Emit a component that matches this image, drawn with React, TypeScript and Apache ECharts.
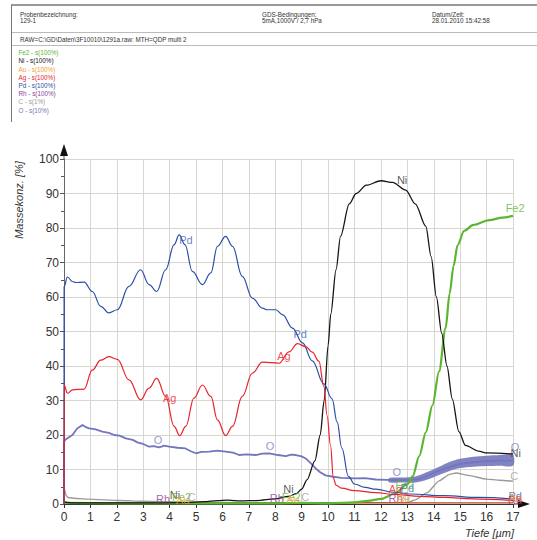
import React, { useEffect, useRef } from "react";
import * as echarts from "echarts";

// ---------- data (depth µm, mass conc. %) ----------
const pd: number[][] = [[0,0],[0.005,63],[0.13,65.8],[0.32,64.5],[0.44,64.2],[0.76,64.3],[1.07,61.6],[1.39,57.3],[1.7,55.4],[2.02,56.3],[2.46,63.1],[2.9,67.9],[3.22,63.6],[3.51,61.6],[3.85,67.9],[4.17,75.2],[4.36,78],[4.58,75.2],[4.86,67.4],[5.24,63.6],[5.56,67],[5.81,74.7],[6.12,77.6],[6.38,74.7],[6.75,66],[7.13,59.7],[7.51,56.8],[7.7,56.3],[8.02,56.3],[8.27,54.9],[8.65,51],[9.03,46.7],[9.4,41.5],[9.84,34.8],[10.15,30.5],[10.34,23.8],[10.52,16.2],[10.77,8],[11.0,5.8],[11.4,4.8],[11.8,4.3],[12.5,3.4],[13.1,2.9],[14.4,2.4],[15.7,1.9],[17,1.4]];
const ag: number[][] = [[0,0],[0.005,34.5],[0.13,32.1],[0.32,33.1],[0.76,33.3],[1.07,38.8],[1.39,41.7],[1.7,42.7],[2.02,41.9],[2.46,36],[2.9,30.2],[3.22,33.6],[3.51,36.4],[3.85,31.2],[4.17,22.5],[4.38,19.8],[4.61,22.5],[4.92,30.7],[5.24,34.5],[5.56,31.2],[5.81,24.4],[6.12,19.8],[6.38,22.5],[6.75,31.2],[7.13,37.9],[7.51,41.1],[7.89,41],[8.14,40.8],[8.52,44.1],[8.84,46.5],[9.15,45.6],[9.4,44],[9.65,41.4],[9.84,34],[9.96,25.7],[10.09,17],[10.2,7.5],[10.3,5.5],[10.5,4.6],[11,3.9],[11.8,3.3],[12.5,2.8],[13.5,2.2],[14.4,1.9],[15.5,1.5],[17,1.0]];
const ni: number[][] = [[0,0.6],[0.3,0.3],[1,0.3],[3,0.3],[4.5,0.4],[5.3,0.7],[5.8,1.0],[6.2,1.1],[6.7,0.9],[7.3,1.0],[8,1.5],[8.5,2.2],[8.8,3],[9,4.3],[9.2,7],[9.5,12.5],[9.7,20],[9.85,30],[10,46],[10.1,55],[10.3,67.9],[10.47,77.6],[10.8,87],[11.06,90],[11.45,92.4],[12,93.7],[12.44,93.2],[12.94,91],[13.3,87],[13.7,80.5],[13.9,71.7],[14.1,60],[14.3,49.5],[14.5,40],[14.7,30.5],[14.95,21],[15.2,17],[15.7,15.3],[16,14.8],[17,14.5]];
const fe2: number[][] = [[0,0.3],[2,0.2],[5,0.2],[8,0.2],[9,0.3],[10,0.2],[10.5,0.3],[11,0.5],[11.5,0.9],[12,1.5],[12.5,2.9],[13,5.7],[13.2,8],[13.45,13.9],[13.7,20.8],[13.95,28.6],[14.2,38.4],[14.45,51],[14.6,61],[14.75,69],[14.9,75],[15.15,79.2],[15.5,80.9],[16.1,82.3],[16.6,83],[17,83.5]];
const oMain: number[][] = [[0,0],[0.005,18.1],[0.06,18.7],[0.2,19.4],[0.32,20],[0.5,21.9],[0.7,22.9],[0.85,22.2],[0.95,21.9],[1.2,21.6],[1.45,21],[1.7,20.6],[1.9,20],[2.1,19.8],[2.34,19],[2.6,18.6],[2.8,17.8],[3.0,17.4],[3.22,16.6],[3.4,16.8],[3.6,16.4],[3.8,16.9],[3.98,16.6],[4.3,16.3],[4.6,16.1],[4.8,15.3],[5.0,14.7],[5.2,15.1],[5.5,15.2],[5.8,15.5],[6.12,15.2],[6.4,14.9],[6.63,14.2],[6.9,14.4],[7.26,14.2],[7.5,14.6],[7.77,14.7],[8.1,14.2],[8.4,13.9],[8.6,14.3],[8.78,14.2],[9.0,13.8],[9.15,13.2],[9.35,11.8],[9.53,10.3],[9.7,9.2],[9.9,8.3],[10.2,7.9],[10.5,7.6],[11,7.4],[11.4,7.5],[11.8,7.1],[12.2,7.0],[12.5,6.9],[13,6.9],[13.5,7.3],[14,9],[14.5,10.5],[15,11.6],[15.5,12.1],[16,12.4],[16.5,12.6],[17,12.6]];
const oBandX: number[] = [12.3, 12.8, 13.3, 13.8, 14.2, 14.6, 15, 15.5, 16, 16.5, 17];
const oBandLow: number[] = [6.3, 6.2, 6.2, 7.2, 8.4, 9.6, 10.4, 10.8, 11.0, 11.1, 11.1];
const oBandHigh: number[] = [7.5, 7.7, 8.0, 9.4, 10.8, 12.2, 13.1, 13.7, 14.0, 14.2, 14.3];
const cData: number[][] = [[0,0],[0.005,4.5],[0.08,2.5],[0.15,1.9],[0.5,1.6],[0.93,1.4],[2.1,1],[3,0.8],[5,0.5],[7,0.4],[9,0.4],[11,0.4],[13,0.4],[13.3,1.2],[13.75,3.3],[14.2,6.7],[14.6,8.6],[14.85,9],[15.3,8.3],[16,7.2],[16.5,6.9],[17,6.6]];
const au: number[][] = [[0,0.8],[0.1,0.2],[5,0.15],[10,0.15],[17,0.2]];
const rh: number[][] = [[0,0.4],[0.1,0.3],[5,0.3],[10,0.3],[17,0.3]];

// curve labels: [series, depth, value]
const curveLabels: [string, number, number][] = [
  ["Pd", 4.62, 76.5], ["Pd", 8.94, 49.3], ["Pd", 13.0, 4.5], ["Pd", 17.08, 2.2],
  ["Ag", 4.0, 30.7], ["Ag", 8.33, 42.9], ["Ag", 12.55, 4.3], ["Ag", 17.08, 1.6],
  ["Rh", 3.75, 1.5], ["Rh", 8.06, 1.8], ["Rh", 12.55, 1.8], ["Rh", 17.08, 1.3],
  ["Ni", 12.8, 93.9], ["Ni", 4.2, 2.6], ["Ni", 8.5, 4.3], ["Ni", 17.1, 14.8],
  ["Fe2", 17.08, 85.8], ["Fe2", 4.45, 2.0], ["Fe2", 8.6, 2.0], ["Fe2", 12.9, 5.6],
  ["Au", 4.5, 1.2], ["Au", 8.67, 1.4], ["Au", 12.85, 1.6], ["Au", 17.08, 1.8],
  ["C", 4.84, 2.1], ["C", 9.13, 2.1], ["C", 12.95, 2.2], ["C", 17.05, 8.1],
  ["O", 3.56, 18.6], ["O", 7.8, 16.8], ["O", 12.6, 9.3], ["O", 17.08, 16.5],
];

const legendLines: [string, string][] = [
  ["Fe2", "Fe2 - s(100%)"], ["Ni", "Ni - s(100%)"], ["Au", "Au - s(100%)"], ["Ag", "Ag - s(100%)"],
  ["Pd", "Pd - s(100%)"], ["Rh", "Rh - s(100%)"], ["C", "C - s(1%)"], ["O", "O - s(10%)"],
];
const headerFields: [string, string][] = [
  ["Probenbezeichnung:", "129-1"],
  ["GDS-Bedingungen:", "5mA,1000V / 2,7 hPa"],
  ["Datum/Zeit:", "28.01.2010 15:42:58"],
];
const rawLine = "RAW=C:\\GD\\Daten\\3F10010\\1291a.raw: MTH=QDP multi 2";

const COLORS: Record<string, string> = {
  Fe2: "#5cb531", Ni: "#151515", Au: "#f4a02c", Ag: "#e8232b",
  Pd: "#2b4fa6", Rh: "#8d3b97", C: "#9a9a9a", O: "#7376bc",
};
const LABEL_COLORS: Record<string, string> = {
  Fe2: "#5cb531", Ni: "#333333", Au: "#f4a02c", Ag: "#e8232b",
  Pd: "#3b5fb0", Rh: "#8d3b97", C: "#a0a0a0", O: "#7a7dc0",
};

const FONT = '"Liberation Sans", Arial, sans-serif';

export default function App() {
  const ref = useRef<HTMLDivElement>(null);
  useEffect(() => {
    if (!ref.current) return;
    const chart = echarts.init(ref.current, undefined, { renderer: "svg" });
    const line = (name: string, data: number[][], width = 1.2, smooth: number | boolean = 0.3, z = 2) => ({
      name, type: "line", data, showSymbol: false, symbol: "none", smooth, smoothMonotone: "x",
      lineStyle: { color: COLORS[name] || COLORS.O, width }, z, silent: true,
    });

    const hdrX = [20, 262, 432];
    const graphic: any[] = [];
    graphic.push({ type: "line", shape: { x1: 11, y1: 5, x2: 537, y2: 5 }, style: { stroke: "#777", lineWidth: 1.5 } });
    graphic.push({ type: "line", shape: { x1: 11, y1: 32.5, x2: 537, y2: 32.5 }, style: { stroke: "#aaa", lineWidth: 0.8 } });
    graphic.push({ type: "line", shape: { x1: 11, y1: 45.5, x2: 537, y2: 45.5 }, style: { stroke: "#aaa", lineWidth: 0.8 } });
    graphic.push({ type: "line", shape: { x1: 11.5, y1: 5, x2: 11.5, y2: 122 }, style: { stroke: "#777", lineWidth: 1 } });
    headerFields.forEach(([a, b], i) => {
      graphic.push({ type: "text", x: hdrX[i], y: 14, style: { text: a, fill: "#333", font: `6.3px ${FONT}`, verticalAlign: "middle" } });
      graphic.push({ type: "text", x: hdrX[i], y: 20.7, style: { text: b, fill: "#333", font: `6.3px ${FONT}`, verticalAlign: "middle" } });
    });
    graphic.push({ type: "text", x: 20, y: 39.3, style: { text: rawLine, fill: "#333", font: `6.3px ${FONT}`, verticalAlign: "middle" } });
    legendLines.forEach(([k, t], i) => {
      graphic.push({ type: "text", x: 18.5, y: 52.7 + i * 8.2, style: { text: t, fill: COLORS[k], font: `6.3px ${FONT}`, verticalAlign: "middle" } });
    });
    // axis arrows
    graphic.push({ type: "line", shape: { x1: 64, y1: 159, x2: 64, y2: 154 }, style: { stroke: "#555", lineWidth: 1 } });
    graphic.push({ type: "polygon", shape: { points: [[64, 144], [60, 156], [68, 156]] }, style: { fill: "#111" } });
    graphic.push({ type: "line", shape: { x1: 513, y1: 504, x2: 520, y2: 504 }, style: { stroke: "#333", lineWidth: 1 } });
    graphic.push({ type: "polygon", shape: { points: [[530, 504], [518, 500], [518, 508]] }, style: { fill: "#111" } });
    // axis names
    graphic.push({ type: "text", x: 19, y: 200, rotation: Math.PI / 2, style: { text: "Massekonz. [%]", fill: "#333", font: `italic 11px ${FONT}`, align: "center", verticalAlign: "middle" } });
    graphic.push({ type: "text", x: 514, y: 533, style: { text: "Tiefe [µm]", fill: "#333", font: `italic 11px ${FONT}`, align: "right", verticalAlign: "middle" } });

    chart.setOption({
      animation: false,
      backgroundColor: "#ffffff",
      grid: { left: 64, right: 24, top: 159, bottom: 36, containLabel: false },
      xAxis: {
        type: "value", min: 0, max: 17, interval: 1,
        axisLine: { show: true, lineStyle: { color: "#333", width: 1 } },
        axisTick: { show: true, length: 4, lineStyle: { color: "#333" } },
        axisLabel: { color: "#333", fontSize: 12, margin: 7, fontFamily: FONT, showMinLabel: true, showMaxLabel: true },
        splitLine: { show: true, lineStyle: { color: "#d9d6cf", width: 1 } },
      },
      yAxis: {
        type: "value", min: 0, max: 100, interval: 10,
        axisLine: { show: true, lineStyle: { color: "#666", width: 1 } },
        axisTick: { show: true, length: 4, lineStyle: { color: "#555" } },
        minorTick: { show: true, splitNumber: 2, length: 3, lineStyle: { color: "#555" } },
        axisLabel: { color: "#333", fontSize: 12, margin: 5, fontFamily: FONT },
        splitLine: { show: true, lineStyle: { color: "#d9d6cf", width: 1 } },
      },
      graphic,
      series: [
        line("Rh", rh, 1.2, false, 3),
        line("Au", au, 1, false, 3),
        line("C", cData, 1.4, 0.2),
        {
          name: "O-band", type: "custom", data: [0], z: 2, silent: true,
          renderItem: (_p: any, api: any) => {
            const up = oBandX.map((x, i) => api.coord([x, oBandHigh[i]]));
            const lo = oBandX.map((x, i) => api.coord([x, oBandLow[i]])).reverse();
            return { type: "polygon", shape: { points: [...up, ...lo], smooth: 0.3 }, style: { fill: COLORS.O, opacity: 0.9 } };
          },
        },
        line("O", oMain, 1.8, false),
        line("Fe2", fe2, 2.2, 0.3, 3),
        line("Ni", ni, 1.3, 0.3, 3),
        line("Pd", pd, 1.2, 0.4, 4),
        line("Ag", ag, 1.2, 0.4, 4),
        {
          name: "labels", type: "scatter", clip: false, symbolSize: 1, itemStyle: { color: "rgba(0,0,0,0)" }, z: 10, silent: true,
          data: curveLabels.map(([n, x, y]) => ({
            name: n, value: [x, y],
            label: { show: true, position: "inside", formatter: n, color: LABEL_COLORS[n], fontSize: 11, fontFamily: FONT },
          })),
        },
      ],
    });
    return () => chart.dispose();
  }, []);
  return <div ref={ref} style={{ position: "absolute", left: 0, top: 0, width: 537, height: 540 }} />;
}
